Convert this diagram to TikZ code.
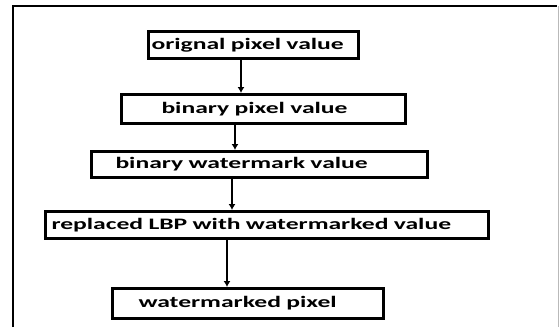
\documentclass[tikz,border=0pt]{standalone}
\usepackage{fontspec}
\setmainfont{Carlito}[FakeStretch=1.6]
\usetikzlibrary{arrows.meta}

\begin{document}
\begin{tikzpicture}[x=1pt, y=-1pt,
    stage/.style={draw, line width=3pt, anchor=north west, inner ysep=0pt,
        align=left, font=\bfseries\fontsize{16}{16}\selectfont},
    flow/.style={-{Latex[length=6pt,width=7pt]}, line width=1.1pt}]

    % page size
    \useasboundingbox (0,0) rectangle (560,327);

    % outer frame
    \draw [line width=1.6pt] (13,327) -- (13,6) -- (557,6);
    \draw [gray!55, line width=0.9pt] (558,6) -- (558,327);

    % the five stages
    \node [stage, minimum width=210pt, minimum height=27pt, inner xsep=3pt, text width=204pt]
        (orig) at (147,30) {\mbox{orignal pixel value}};
    \node [stage, minimum width=284pt, minimum height=29pt, inner xsep=40pt, text width=204pt]
        (binpix) at (120,93) {\mbox{binary pixel value}};
    \node [stage, minimum width=336pt, minimum height=26pt, inner xsep=24pt, text width=288pt]
        (binwm) at (90,150) {\mbox{binary watermark value}};
    \node [stage, minimum width=443pt, minimum height=27pt, inner xsep=6pt, text width=431pt]
        (lbp) at (44,210) {\mbox{replaced LBP with watermarked value}};
    \node [stage, minimum width=271pt, minimum height=30pt, inner xsep=26pt, text width=219pt]
        (wmpix) at (111,287) {\mbox{watermarked pixel}};

    % arrows between stages
    \draw [flow] (orig.south -| 241,0) -- (binpix.north -| 241,0);
    \draw [flow] (binpix.south -| 235,0) -- (binwm.north -| 235,0);
    \draw [flow] (binwm.south -| 232,0) -- (lbp.north -| 232,0);
    \draw [flow] (lbp.south -| 227,0) -- (wmpix.north -| 227,0);

\end{tikzpicture}
\end{document}
